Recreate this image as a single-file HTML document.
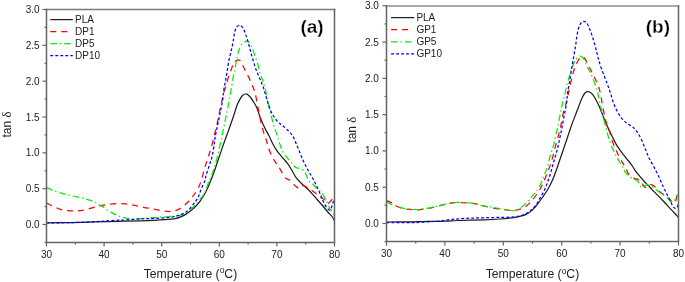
<!DOCTYPE html>
<html><head><meta charset="utf-8"><style>
html,body{margin:0;padding:0;background:#fff;}
body{width:685px;height:282px;overflow:hidden;}
svg{display:block;font-family:"Liberation Sans", sans-serif;will-change:transform;filter:blur(0.3px);}
</style></head><body>
<svg width="685" height="282" viewBox="0 0 685 282" fill="#222">
<rect width="685" height="282" fill="#fff"/>
<clipPath id="ca"><rect x="46.50" y="8.50" width="288.00" height="234.00"/></clipPath>
<path d="M46.50,222.90 C50.55,222.85 62.62,222.77 70.80,222.60 C78.98,222.43 87.60,222.12 95.60,221.90 C103.60,221.68 111.40,221.47 118.80,221.30 C126.20,221.13 134.10,221.07 140.00,220.90 C145.90,220.73 149.47,220.57 154.20,220.30 C158.93,220.03 164.88,219.58 168.40,219.30 C171.92,219.02 173.27,219.02 175.30,218.60 C177.33,218.18 178.82,217.55 180.60,216.80 C182.38,216.05 184.22,215.18 186.00,214.10 C187.78,213.02 189.68,211.60 191.30,210.30 C192.92,209.00 194.20,207.87 195.70,206.30 C197.20,204.73 198.63,203.28 200.30,200.90 C201.97,198.52 204.07,195.12 205.70,192.00 C207.33,188.88 208.63,185.75 210.10,182.20 C211.57,178.65 213.17,174.40 214.50,170.70 C215.83,167.00 216.63,164.30 218.10,160.00 C219.57,155.70 221.68,149.50 223.30,144.90 C224.92,140.30 226.32,136.55 227.80,132.40 C229.28,128.25 231.07,123.28 232.20,120.00 C233.33,116.72 233.77,115.23 234.60,112.70 C235.43,110.17 236.32,107.02 237.20,104.80 C238.08,102.58 238.98,100.98 239.90,99.40 C240.82,97.82 241.77,96.20 242.70,95.30 C243.63,94.40 244.53,94.02 245.50,94.00 C246.47,93.98 247.58,94.53 248.50,95.20 C249.42,95.87 250.20,96.95 251.00,98.00 C251.80,99.05 252.33,99.88 253.30,101.50 C254.27,103.12 255.58,104.87 256.80,107.70 C258.02,110.53 259.30,115.20 260.60,118.50 C261.90,121.80 263.18,124.58 264.60,127.50 C266.02,130.42 267.65,133.12 269.10,136.00 C270.55,138.88 271.87,142.15 273.30,144.80 C274.73,147.45 276.08,149.68 277.70,151.90 C279.32,154.12 281.37,156.18 283.00,158.10 C284.63,160.02 286.17,161.62 287.50,163.40 C288.83,165.18 289.65,166.57 291.00,168.80 C292.35,171.03 293.93,174.43 295.60,176.80 C297.27,179.17 298.93,180.92 301.00,183.00 C303.07,185.08 305.65,186.93 308.00,189.30 C310.35,191.67 312.77,194.58 315.10,197.20 C317.43,199.82 319.88,202.53 322.00,205.00 C324.12,207.47 326.07,210.00 327.80,212.00 C329.53,214.00 331.28,215.50 332.40,217.00 C333.52,218.50 334.15,220.33 334.50,221.00" fill="none" stroke="#1e1e1e" stroke-width="1.25"  clip-path="url(#ca)"/>
<path d="M46.50,203.00 C47.60,203.53 50.82,205.15 53.10,206.20 C55.38,207.25 57.83,208.58 60.20,209.30 C62.57,210.02 64.65,210.22 67.30,210.50 C69.95,210.78 73.15,211.12 76.10,211.00 C79.05,210.88 81.75,210.47 85.00,209.80 C88.25,209.13 92.92,207.68 95.60,207.00 C98.28,206.32 99.00,206.12 101.10,205.70 C103.20,205.28 105.55,204.85 108.20,204.50 C110.85,204.15 114.05,203.70 117.00,203.60 C119.95,203.50 122.93,203.60 125.90,203.90 C128.87,204.20 131.85,204.83 134.80,205.40 C137.75,205.97 140.37,206.68 143.60,207.30 C146.83,207.92 150.78,208.47 154.20,209.10 C157.62,209.73 161.47,210.70 164.10,211.10 C166.73,211.50 168.30,211.52 170.00,211.50 C171.70,211.48 172.88,211.35 174.30,211.00 C175.72,210.65 177.08,210.12 178.50,209.40 C179.92,208.68 181.38,207.77 182.80,206.70 C184.22,205.63 185.58,204.42 187.00,203.00 C188.42,201.58 190.05,199.70 191.30,198.20 C192.55,196.70 193.27,195.85 194.50,194.00 C195.73,192.15 197.50,189.60 198.70,187.10 C199.90,184.60 200.63,182.42 201.70,179.00 C202.77,175.58 203.95,170.43 205.10,166.60 C206.25,162.77 207.40,159.85 208.60,156.00 C209.80,152.15 211.22,147.47 212.30,143.50 C213.38,139.53 214.25,135.70 215.10,132.20 C215.95,128.70 216.67,125.90 217.40,122.50 C218.13,119.10 218.80,115.20 219.50,111.80 C220.20,108.40 220.85,105.40 221.60,102.10 C222.35,98.80 223.23,94.77 224.00,92.00 C224.77,89.23 225.53,87.77 226.20,85.50 C226.87,83.23 227.27,80.77 228.00,78.40 C228.73,76.03 229.72,73.67 230.60,71.30 C231.48,68.93 232.48,65.92 233.30,64.20 C234.12,62.48 234.77,61.73 235.50,61.00 C236.23,60.27 236.95,59.88 237.70,59.80 C238.45,59.72 239.40,60.07 240.00,60.50 C240.60,60.93 240.50,60.90 241.30,62.40 C242.10,63.90 243.62,67.13 244.80,69.50 C245.98,71.87 247.22,74.08 248.40,76.60 C249.58,79.12 250.92,82.28 251.90,84.60 C252.88,86.92 253.62,88.42 254.30,90.50 C254.98,92.58 255.43,94.52 256.00,97.10 C256.57,99.68 257.12,103.05 257.70,106.00 C258.28,108.95 258.90,111.85 259.50,114.80 C260.10,117.75 260.57,120.60 261.30,123.70 C262.03,126.80 263.03,130.60 263.90,133.40 C264.77,136.20 265.82,138.30 266.50,140.50 C267.18,142.70 267.02,143.82 268.00,146.60 C268.98,149.38 270.93,154.25 272.40,157.20 C273.87,160.15 275.47,162.23 276.80,164.30 C278.13,166.37 279.03,167.37 280.40,169.60 C281.77,171.83 283.52,175.98 285.00,177.70 C286.48,179.42 288.12,179.07 289.30,179.90 C290.48,180.73 291.05,181.65 292.10,182.70 C293.15,183.75 294.42,185.25 295.60,186.20 C296.78,187.15 298.22,188.35 299.20,188.40 C300.18,188.45 300.77,186.97 301.50,186.50 C302.23,186.03 302.57,185.37 303.60,185.60 C304.63,185.83 306.55,187.28 307.70,187.90 C308.85,188.52 309.27,188.48 310.50,189.30 C311.73,190.12 313.43,191.48 315.10,192.80 C316.77,194.12 318.83,195.98 320.50,197.20 C322.17,198.42 323.90,198.97 325.10,200.10 C326.30,201.23 326.95,203.68 327.70,204.00 C328.45,204.32 328.97,202.65 329.60,202.00 C330.23,201.35 330.87,201.15 331.50,200.10 C332.13,199.05 332.90,196.72 333.40,195.70 C333.90,194.68 334.32,194.28 334.50,194.00" fill="none" stroke="#ff0000" stroke-width="1.25" stroke-dasharray="6 5" clip-path="url(#ca)"/>
<path d="M46.50,187.40 C47.90,188.00 52.03,189.93 54.90,191.00 C57.77,192.07 60.75,192.97 63.70,193.80 C66.65,194.63 69.63,195.35 72.60,196.00 C75.57,196.65 78.83,197.05 81.50,197.70 C84.17,198.35 86.25,199.10 88.60,199.90 C90.95,200.70 93.52,201.53 95.60,202.50 C97.68,203.47 99.00,204.37 101.10,205.70 C103.20,207.03 105.83,209.02 108.20,210.50 C110.57,211.98 112.93,213.48 115.30,214.60 C117.67,215.72 120.03,216.55 122.40,217.20 C124.77,217.85 126.85,218.20 129.50,218.50 C132.15,218.80 135.95,219.02 138.30,219.00 C140.65,218.98 140.95,218.62 143.60,218.40 C146.25,218.18 150.07,218.02 154.20,217.70 C158.33,217.38 164.88,216.73 168.40,216.50 C171.92,216.27 173.27,216.52 175.30,216.30 C177.33,216.08 178.82,215.73 180.60,215.20 C182.38,214.67 184.22,214.17 186.00,213.10 C187.78,212.03 189.72,210.22 191.30,208.80 C192.88,207.38 194.17,206.02 195.50,204.60 C196.83,203.18 197.73,202.33 199.30,200.30 C200.87,198.27 203.38,195.33 204.90,192.40 C206.42,189.47 207.18,185.82 208.40,182.70 C209.62,179.58 210.98,176.98 212.20,173.70 C213.42,170.42 214.67,166.55 215.70,163.00 C216.73,159.45 217.52,156.08 218.40,152.40 C219.28,148.72 220.37,143.82 221.00,140.90 C221.63,137.98 221.72,137.23 222.20,134.90 C222.68,132.57 223.32,129.72 223.90,126.90 C224.48,124.08 225.10,120.95 225.70,118.00 C226.30,115.05 226.82,112.58 227.50,109.20 C228.18,105.82 229.13,101.37 229.80,97.70 C230.47,94.03 230.92,90.72 231.50,87.20 C232.08,83.68 232.70,79.85 233.30,76.60 C233.90,73.35 234.52,70.65 235.10,67.70 C235.68,64.75 236.22,61.70 236.80,58.90 C237.38,56.10 237.85,53.25 238.60,50.90 C239.35,48.55 240.27,46.28 241.30,44.80 C242.33,43.32 243.73,42.63 244.80,42.00 C245.87,41.37 246.75,40.53 247.70,41.00 C248.65,41.47 249.68,43.47 250.50,44.80 C251.32,46.13 251.88,47.20 252.60,49.00 C253.32,50.80 254.00,53.32 254.80,55.60 C255.60,57.88 256.52,59.73 257.40,62.70 C258.28,65.67 259.22,70.43 260.10,73.40 C260.98,76.37 261.82,77.85 262.70,80.50 C263.58,83.15 264.60,85.95 265.40,89.30 C266.20,92.65 266.72,96.93 267.50,100.60 C268.28,104.27 269.37,108.33 270.10,111.30 C270.83,114.27 271.22,115.77 271.90,118.40 C272.58,121.03 273.38,124.47 274.20,127.10 C275.02,129.73 275.92,131.55 276.80,134.20 C277.68,136.85 278.47,140.05 279.50,143.00 C280.53,145.95 281.67,149.38 283.00,151.90 C284.33,154.42 286.02,156.18 287.50,158.10 C288.98,160.02 290.73,162.00 291.90,163.40 C293.07,164.80 293.65,165.73 294.50,166.50 C295.35,167.27 295.98,167.67 297.00,168.00 C298.02,168.33 299.53,168.07 300.60,168.50 C301.67,168.93 302.57,169.77 303.40,170.60 C304.23,171.43 305.00,172.43 305.60,173.50 C306.20,174.57 306.42,175.70 307.00,177.00 C307.58,178.30 308.27,180.23 309.10,181.30 C309.93,182.37 311.17,182.70 312.00,183.40 C312.83,184.10 313.13,184.52 314.10,185.50 C315.07,186.48 316.60,188.25 317.80,189.30 C319.00,190.35 320.40,190.85 321.30,191.80 C322.20,192.75 322.47,193.72 323.20,195.00 C323.93,196.28 324.85,197.90 325.70,199.50 C326.55,201.10 327.65,203.12 328.30,204.60 C328.95,206.08 329.07,207.33 329.60,208.40 C330.13,209.47 330.77,209.93 331.50,211.00 C332.23,212.07 333.58,214.17 334.00,214.80" fill="none" stroke="#00ee00" stroke-width="1.25" stroke-dasharray="6.6 2.8 1.4 3" clip-path="url(#ca)"/>
<path d="M46.50,223.00 C50.55,222.93 62.62,222.82 70.80,222.60 C78.98,222.38 89.97,221.95 95.60,221.70 C101.23,221.45 101.32,221.32 104.60,221.10 C107.88,220.88 111.75,220.60 115.30,220.40 C118.85,220.20 121.18,220.18 125.90,219.90 C130.62,219.62 138.88,218.95 143.60,218.70 C148.32,218.45 150.07,218.60 154.20,218.40 C158.33,218.20 164.88,217.85 168.40,217.50 C171.92,217.15 173.27,216.80 175.30,216.30 C177.33,215.80 178.82,215.22 180.60,214.50 C182.38,213.78 184.22,213.30 186.00,212.00 C187.78,210.70 189.72,208.47 191.30,206.70 C192.88,204.93 194.27,203.17 195.50,201.40 C196.73,199.63 197.72,198.25 198.70,196.10 C199.68,193.95 200.37,191.03 201.40,188.50 C202.43,185.97 204.13,183.07 204.90,180.90 C205.67,178.73 205.23,178.18 206.00,175.50 C206.77,172.82 208.47,168.05 209.50,164.80 C210.53,161.55 211.40,159.53 212.20,156.00 C213.00,152.47 213.82,146.67 214.30,143.60 C214.78,140.53 214.68,140.08 215.10,137.60 C215.52,135.12 216.13,131.97 216.80,128.70 C217.47,125.43 218.35,121.55 219.10,118.00 C219.85,114.45 220.65,110.78 221.30,107.40 C221.95,104.02 222.63,100.32 223.00,97.70 C223.37,95.08 223.12,94.33 223.50,91.70 C223.88,89.07 224.70,85.30 225.30,81.90 C225.90,78.50 226.50,74.85 227.10,71.30 C227.70,67.75 228.25,63.90 228.90,60.60 C229.55,57.30 230.47,53.78 231.00,51.50 C231.53,49.22 231.77,48.48 232.10,46.90 C232.43,45.32 232.70,43.65 233.00,42.00 C233.30,40.35 233.58,38.72 233.90,37.00 C234.22,35.28 234.50,33.28 234.90,31.70 C235.30,30.12 235.47,28.58 236.30,27.50 C237.13,26.42 238.72,25.03 239.90,25.20 C241.08,25.37 242.52,27.13 243.40,28.50 C244.28,29.87 244.60,31.75 245.20,33.40 C245.80,35.05 246.47,36.73 247.00,38.40 C247.53,40.07 247.93,41.75 248.40,43.40 C248.87,45.05 249.38,46.70 249.80,48.30 C250.22,49.90 250.45,51.35 250.90,53.00 C251.35,54.65 251.80,55.87 252.50,58.20 C253.20,60.53 254.22,64.35 255.10,67.00 C255.98,69.65 256.83,71.73 257.80,74.10 C258.77,76.47 259.95,78.92 260.90,81.20 C261.85,83.48 262.70,85.43 263.50,87.80 C264.30,90.17 264.95,92.87 265.70,95.40 C266.45,97.93 267.12,100.32 268.00,103.00 C268.88,105.68 269.92,109.08 271.00,111.50 C272.08,113.92 273.25,115.67 274.50,117.50 C275.75,119.33 277.15,121.17 278.50,122.50 C279.85,123.83 281.05,124.20 282.60,125.50 C284.15,126.80 286.10,128.55 287.80,130.30 C289.50,132.05 291.38,133.73 292.80,136.00 C294.22,138.27 295.12,141.10 296.30,143.90 C297.48,146.70 298.77,150.05 299.90,152.80 C301.03,155.55 302.03,158.02 303.10,160.40 C304.17,162.78 305.18,164.95 306.30,167.10 C307.42,169.25 308.62,171.23 309.80,173.30 C310.98,175.37 312.22,177.28 313.40,179.50 C314.58,181.72 315.72,184.07 316.90,186.60 C318.08,189.13 319.55,192.45 320.50,194.70 C321.45,196.95 321.93,198.55 322.60,200.10 C323.27,201.65 323.77,202.72 324.50,204.00 C325.23,205.28 326.15,206.77 327.00,207.80 C327.85,208.83 328.85,210.30 329.60,210.20 C330.35,210.10 330.97,208.35 331.50,207.20 C332.03,206.05 332.30,204.67 332.80,203.30 C333.30,201.93 334.22,199.72 334.50,199.00" fill="none" stroke="#0000ff" stroke-width="1.25" stroke-dasharray="2.9 2.1" clip-path="url(#ca)"/>
<path d="M46.50,9.50 H334.50" stroke="#7a7a7a" stroke-width="1.5" stroke-linecap="square"/>
<path d="M46.50,9.50 V242.50 H334.50 V9.50" fill="none" stroke="#636363" stroke-width="1.5" stroke-linecap="square"/>
<line x1="44.50" y1="242.42" x2="46.50" y2="242.42" stroke="#636363" stroke-width="1.2"/>
<line x1="42.50" y1="224.50" x2="46.50" y2="224.50" stroke="#636363" stroke-width="1.2"/>
<text x="39.60" y="228.00" text-anchor="end" font-size="10.0">0.0</text>
<line x1="44.50" y1="206.58" x2="46.50" y2="206.58" stroke="#636363" stroke-width="1.2"/>
<line x1="42.50" y1="188.67" x2="46.50" y2="188.67" stroke="#636363" stroke-width="1.2"/>
<text x="39.60" y="192.17" text-anchor="end" font-size="10.0">0.5</text>
<line x1="44.50" y1="170.75" x2="46.50" y2="170.75" stroke="#636363" stroke-width="1.2"/>
<line x1="42.50" y1="152.83" x2="46.50" y2="152.83" stroke="#636363" stroke-width="1.2"/>
<text x="39.60" y="156.33" text-anchor="end" font-size="10.0">1.0</text>
<line x1="44.50" y1="134.92" x2="46.50" y2="134.92" stroke="#636363" stroke-width="1.2"/>
<line x1="42.50" y1="117.00" x2="46.50" y2="117.00" stroke="#636363" stroke-width="1.2"/>
<text x="39.60" y="120.50" text-anchor="end" font-size="10.0">1.5</text>
<line x1="44.50" y1="99.08" x2="46.50" y2="99.08" stroke="#636363" stroke-width="1.2"/>
<line x1="42.50" y1="81.17" x2="46.50" y2="81.17" stroke="#636363" stroke-width="1.2"/>
<text x="39.60" y="84.67" text-anchor="end" font-size="10.0">2.0</text>
<line x1="44.50" y1="63.25" x2="46.50" y2="63.25" stroke="#636363" stroke-width="1.2"/>
<line x1="42.50" y1="45.33" x2="46.50" y2="45.33" stroke="#636363" stroke-width="1.2"/>
<text x="39.60" y="48.83" text-anchor="end" font-size="10.0">2.5</text>
<line x1="44.50" y1="27.42" x2="46.50" y2="27.42" stroke="#636363" stroke-width="1.2"/>
<line x1="42.50" y1="9.50" x2="46.50" y2="9.50" stroke="#636363" stroke-width="1.2"/>
<text x="39.60" y="13.00" text-anchor="end" font-size="10.0">3.0</text>
<line x1="46.50" y1="242.50" x2="46.50" y2="246.50" stroke="#636363" stroke-width="1.2"/>
<text x="46.50" y="258.00" text-anchor="middle" font-size="10.0">30</text>
<line x1="75.30" y1="242.50" x2="75.30" y2="244.50" stroke="#636363" stroke-width="1.2"/>
<line x1="104.10" y1="242.50" x2="104.10" y2="246.50" stroke="#636363" stroke-width="1.2"/>
<text x="104.10" y="258.00" text-anchor="middle" font-size="10.0">40</text>
<line x1="132.90" y1="242.50" x2="132.90" y2="244.50" stroke="#636363" stroke-width="1.2"/>
<line x1="161.70" y1="242.50" x2="161.70" y2="246.50" stroke="#636363" stroke-width="1.2"/>
<text x="161.70" y="258.00" text-anchor="middle" font-size="10.0">50</text>
<line x1="190.50" y1="242.50" x2="190.50" y2="244.50" stroke="#636363" stroke-width="1.2"/>
<line x1="219.30" y1="242.50" x2="219.30" y2="246.50" stroke="#636363" stroke-width="1.2"/>
<text x="219.30" y="258.00" text-anchor="middle" font-size="10.0">60</text>
<line x1="248.10" y1="242.50" x2="248.10" y2="244.50" stroke="#636363" stroke-width="1.2"/>
<line x1="276.90" y1="242.50" x2="276.90" y2="246.50" stroke="#636363" stroke-width="1.2"/>
<text x="276.90" y="258.00" text-anchor="middle" font-size="10.0">70</text>
<line x1="305.70" y1="242.50" x2="305.70" y2="244.50" stroke="#636363" stroke-width="1.2"/>
<line x1="334.50" y1="242.50" x2="334.50" y2="246.50" stroke="#636363" stroke-width="1.2"/>
<text x="334.50" y="258.00" text-anchor="middle" font-size="10.0">80</text>
<text x="190.50" y="277.60" text-anchor="middle" font-size="12.2">Temperature (<tspan font-size="8.5" dy="-4.5">o</tspan><tspan dy="4.5">C)</tspan></text>
<text transform="translate(10.50,124.60) rotate(-90)" text-anchor="middle" font-size="12.0">tan <tspan font-family="'Liberation Serif', serif" font-size="12.6">&#948;</tspan></text>
<text x="323.70" y="33.20" text-anchor="end" font-size="19.0" font-weight="bold" fill="#000" stroke="#fff" stroke-width="0.3">(a)</text>
<line x1="50.30" y1="19.60" x2="72.80" y2="19.60" stroke="#1e1e1e" stroke-width="1.25" />
<text x="75.00" y="23.10" font-size="10.0">PLA</text>
<line x1="50.30" y1="31.60" x2="67.50" y2="31.60" stroke="#ff0000" stroke-width="1.25" stroke-dasharray="6 5"/>
<text x="75.00" y="35.10" font-size="10.0">DP1</text>
<line x1="50.30" y1="43.60" x2="72.80" y2="43.60" stroke="#00ee00" stroke-width="1.25" stroke-dasharray="6.6 2.8 1.4 3"/>
<text x="75.00" y="47.10" font-size="10.0">DP5</text>
<line x1="50.30" y1="55.60" x2="72.80" y2="55.60" stroke="#0000ff" stroke-width="1.25" stroke-dasharray="2.9 2.1"/>
<text x="75.00" y="59.10" font-size="10.0">DP10</text>
<clipPath id="cb"><rect x="386.50" y="4.90" width="292.00" height="236.70"/></clipPath>
<path d="M386.50,222.00 C390.42,221.97 403.13,221.90 410.00,221.80 C416.87,221.70 421.78,221.52 427.70,221.40 C433.62,221.28 440.47,221.25 445.50,221.10 C450.53,220.95 451.55,220.72 457.90,220.50 C464.25,220.28 476.63,220.05 483.60,219.80 C490.57,219.55 494.65,219.37 499.70,219.00 C504.75,218.63 510.05,218.15 513.90,217.60 C517.75,217.05 520.43,216.43 522.80,215.70 C525.17,214.97 526.63,214.05 528.10,213.20 C529.57,212.35 530.28,211.78 531.60,210.60 C532.92,209.42 534.15,208.37 536.00,206.10 C537.85,203.83 540.70,199.85 542.70,197.00 C544.70,194.15 546.37,191.82 548.00,189.00 C549.63,186.18 551.17,183.10 552.50,180.10 C553.83,177.10 554.82,174.27 556.00,171.00 C557.18,167.73 558.47,163.78 559.60,160.50 C560.73,157.22 561.82,154.18 562.80,151.30 C563.78,148.42 564.63,145.78 565.50,143.20 C566.37,140.62 567.17,138.30 568.00,135.80 C568.83,133.30 569.68,130.57 570.50,128.20 C571.32,125.83 571.90,124.27 572.90,121.60 C573.90,118.93 575.18,115.65 576.50,112.20 C577.82,108.75 579.80,103.43 580.80,100.90 C581.80,98.37 581.80,98.32 582.50,97.00 C583.20,95.68 584.05,93.88 585.00,93.00 C585.95,92.12 587.02,91.55 588.20,91.70 C589.38,91.85 590.87,92.65 592.10,93.90 C593.33,95.15 594.42,97.13 595.60,99.20 C596.78,101.27 598.02,103.65 599.20,106.30 C600.38,108.95 601.52,112.15 602.70,115.10 C603.88,118.05 605.18,121.42 606.30,124.00 C607.42,126.58 608.35,128.38 609.40,130.60 C610.45,132.82 611.37,134.83 612.60,137.30 C613.83,139.77 615.35,142.98 616.80,145.40 C618.25,147.82 619.67,149.60 621.30,151.80 C622.93,154.00 624.88,156.40 626.60,158.60 C628.32,160.80 630.07,162.87 631.60,165.00 C633.13,167.13 634.38,169.45 635.80,171.40 C637.22,173.35 638.68,175.02 640.10,176.70 C641.52,178.38 642.88,179.98 644.30,181.50 C645.72,183.02 647.32,184.45 648.60,185.80 C649.88,187.15 650.77,188.30 652.00,189.60 C653.23,190.90 654.33,191.90 656.00,193.60 C657.67,195.30 660.00,197.72 662.00,199.80 C664.00,201.88 665.98,203.95 668.00,206.10 C670.02,208.25 672.58,211.07 674.10,212.70 C675.62,214.33 676.37,215.10 677.10,215.90 C677.83,216.70 678.27,217.23 678.50,217.50" fill="none" stroke="#1e1e1e" stroke-width="1.25"  clip-path="url(#cb)"/>
<path d="M386.50,200.50 C387.30,200.85 389.62,201.63 391.30,202.60 C392.98,203.57 394.53,205.30 396.60,206.30 C398.67,207.30 401.33,208.07 403.70,208.60 C406.07,209.13 408.43,209.30 410.80,209.50 C413.17,209.70 415.53,209.90 417.90,209.80 C420.27,209.70 422.63,209.25 425.00,208.90 C427.37,208.55 429.42,208.28 432.10,207.70 C434.78,207.12 438.42,206.08 441.10,205.40 C443.78,204.72 445.83,204.05 448.20,203.60 C450.57,203.15 452.93,202.85 455.30,202.70 C457.67,202.55 460.03,202.63 462.40,202.70 C464.77,202.77 467.13,202.87 469.50,203.10 C471.87,203.33 474.25,203.62 476.60,204.10 C478.95,204.58 481.52,205.48 483.60,206.00 C485.68,206.52 487.00,206.77 489.10,207.20 C491.20,207.63 493.83,208.22 496.20,208.60 C498.57,208.98 500.93,209.20 503.30,209.50 C505.67,209.80 508.03,210.35 510.40,210.40 C512.77,210.45 515.13,210.33 517.50,209.80 C519.87,209.27 522.53,208.38 524.60,207.20 C526.67,206.02 528.20,204.40 529.90,202.70 C531.60,201.00 533.10,199.28 534.80,197.00 C536.50,194.72 538.63,191.52 540.10,189.00 C541.57,186.48 542.42,184.57 543.60,181.90 C544.78,179.23 546.13,175.67 547.20,173.00 C548.27,170.33 549.08,168.57 550.00,165.90 C550.92,163.23 551.82,160.18 552.70,157.00 C553.58,153.82 554.33,150.42 555.30,146.80 C556.27,143.18 557.55,138.93 558.50,135.30 C559.45,131.67 560.25,128.52 561.00,125.00 C561.75,121.48 562.13,117.92 563.00,114.20 C563.87,110.48 565.47,105.42 566.20,102.70 C566.93,99.98 566.75,100.77 567.40,97.90 C568.05,95.03 569.22,89.35 570.10,85.50 C570.98,81.65 571.82,78.05 572.70,74.80 C573.58,71.55 574.22,68.80 575.40,66.00 C576.58,63.20 578.47,59.48 579.80,58.00 C581.13,56.52 582.37,56.67 583.40,57.10 C584.43,57.53 584.97,58.83 586.00,60.60 C587.03,62.37 588.42,65.33 589.60,67.70 C590.78,70.07 591.92,72.43 593.10,74.80 C594.28,77.17 595.67,79.53 596.70,81.90 C597.73,84.27 598.58,86.57 599.30,89.00 C600.02,91.43 600.43,93.62 601.00,96.50 C601.57,99.38 602.05,102.90 602.70,106.30 C603.35,109.70 604.15,113.65 604.90,116.90 C605.65,120.15 606.38,123.22 607.20,125.80 C608.02,128.38 608.93,129.82 609.80,132.40 C610.67,134.98 611.37,138.35 612.40,141.30 C613.43,144.25 614.82,147.45 616.00,150.10 C617.18,152.75 618.33,154.98 619.50,157.20 C620.67,159.42 622.00,161.68 623.00,163.40 C624.00,165.12 624.52,165.65 625.50,167.50 C626.48,169.35 627.53,172.75 628.90,174.50 C630.27,176.25 632.08,177.13 633.70,178.00 C635.32,178.87 637.30,179.00 638.60,179.70 C639.90,180.40 640.68,181.15 641.50,182.20 C642.32,183.25 642.83,185.15 643.50,186.00 C644.17,186.85 644.75,187.38 645.50,187.30 C646.25,187.22 647.25,186.00 648.00,185.50 C648.75,185.00 649.02,184.22 650.00,184.30 C650.98,184.38 652.60,185.08 653.90,186.00 C655.20,186.92 656.65,188.73 657.80,189.80 C658.95,190.87 659.73,191.53 660.80,192.40 C661.87,193.27 663.00,194.08 664.20,195.00 C665.40,195.92 666.87,196.93 668.00,197.90 C669.13,198.87 670.08,199.93 671.00,200.80 C671.92,201.67 672.75,202.98 673.50,203.10 C674.25,203.22 674.92,202.77 675.50,201.50 C676.08,200.23 676.50,197.58 677.00,195.50 C677.50,193.42 678.25,190.08 678.50,189.00" fill="none" stroke="#ff0000" stroke-width="1.25" stroke-dasharray="6 5" clip-path="url(#cb)"/>
<path d="M386.50,201.80 C387.30,202.22 389.62,203.60 391.30,204.30 C392.98,205.00 394.53,205.32 396.60,206.00 C398.67,206.68 401.33,207.85 403.70,208.40 C406.07,208.95 408.43,209.10 410.80,209.30 C413.17,209.50 415.53,209.70 417.90,209.60 C420.27,209.50 422.63,209.08 425.00,208.70 C427.37,208.32 429.42,207.88 432.10,207.30 C434.78,206.72 438.42,205.85 441.10,205.20 C443.78,204.55 445.83,203.85 448.20,203.40 C450.57,202.95 452.93,202.65 455.30,202.50 C457.67,202.35 460.03,202.43 462.40,202.50 C464.77,202.57 467.13,202.67 469.50,202.90 C471.87,203.13 474.25,203.42 476.60,203.90 C478.95,204.38 480.33,205.12 483.60,205.80 C486.87,206.48 491.73,207.22 496.20,208.00 C500.67,208.78 506.85,210.23 510.40,210.50 C513.95,210.77 515.13,210.60 517.50,209.60 C519.87,208.60 522.53,206.23 524.60,204.50 C526.67,202.77 528.42,200.87 529.90,199.20 C531.38,197.53 531.95,196.50 533.50,194.50 C535.05,192.50 537.52,190.18 539.20,187.20 C540.88,184.22 542.27,179.85 543.60,176.60 C544.93,173.35 546.13,171.05 547.20,167.70 C548.27,164.35 549.08,159.77 550.00,156.50 C550.92,153.23 551.95,150.60 552.70,148.10 C553.45,145.60 553.93,143.88 554.50,141.50 C555.07,139.12 555.57,136.13 556.10,133.80 C556.63,131.47 557.25,129.55 557.70,127.50 C558.15,125.45 558.20,124.60 558.80,121.50 C559.40,118.40 560.60,112.33 561.30,108.90 C562.00,105.47 562.57,102.73 563.00,100.90 C563.43,99.07 563.32,100.18 563.90,97.90 C564.48,95.62 565.62,90.75 566.50,87.20 C567.38,83.65 568.17,80.13 569.20,76.60 C570.23,73.07 571.52,68.95 572.70,66.00 C573.88,63.05 574.97,60.53 576.30,58.90 C577.63,57.27 579.37,56.05 580.70,56.20 C582.03,56.35 583.12,57.88 584.30,59.80 C585.48,61.72 586.63,65.20 587.80,67.70 C588.97,70.20 590.12,72.13 591.30,74.80 C592.48,77.47 593.95,81.17 594.90,83.70 C595.85,86.23 596.43,88.02 597.00,90.00 C597.57,91.98 597.63,92.60 598.30,95.60 C598.97,98.60 600.12,104.15 601.00,108.00 C601.88,111.85 602.77,115.37 603.60,118.70 C604.43,122.03 605.42,125.72 606.00,128.00 C606.58,130.28 606.47,130.18 607.10,132.40 C607.73,134.62 608.77,138.35 609.80,141.30 C610.83,144.25 612.13,147.45 613.30,150.10 C614.47,152.75 615.62,154.98 616.80,157.20 C617.98,159.42 619.37,161.62 620.40,163.40 C621.43,165.18 622.15,166.38 623.00,167.90 C623.85,169.42 624.25,170.95 625.50,172.50 C626.75,174.05 629.05,176.05 630.50,177.20 C631.95,178.35 633.07,178.80 634.20,179.40 C635.33,180.00 636.43,180.05 637.30,180.80 C638.17,181.55 638.62,182.75 639.40,183.90 C640.18,185.05 641.08,187.42 642.00,187.70 C642.92,187.98 643.92,186.08 644.90,185.60 C645.88,185.12 646.90,184.73 647.90,184.80 C648.90,184.87 649.83,185.43 650.90,186.00 C651.97,186.57 653.15,187.37 654.30,188.20 C655.45,189.03 656.72,190.13 657.80,191.00 C658.88,191.87 659.80,192.68 660.80,193.40 C661.80,194.12 662.60,194.48 663.80,195.30 C665.00,196.12 666.88,197.30 668.00,198.30 C669.12,199.30 669.75,200.77 670.50,201.30 C671.25,201.83 671.80,201.70 672.50,201.50 C673.20,201.30 674.13,200.93 674.70,200.10 C675.27,199.27 675.40,197.40 675.90,196.50 C676.40,195.60 677.27,194.95 677.70,194.70 C678.13,194.45 678.37,194.95 678.50,195.00" fill="none" stroke="#00ee00" stroke-width="1.25" stroke-dasharray="6.6 2.8 1.4 3" clip-path="url(#cb)"/>
<path d="M386.50,222.60 C390.72,222.62 405.97,222.77 411.80,222.70 C417.63,222.63 418.25,222.37 421.50,222.20 C424.75,222.03 428.33,221.90 431.30,221.70 C434.27,221.50 436.35,221.33 439.30,221.00 C442.25,220.67 445.90,220.05 449.00,219.70 C452.10,219.35 454.40,219.15 457.90,218.90 C461.40,218.65 465.72,218.38 470.00,218.20 C474.28,218.02 478.65,217.93 483.60,217.80 C488.55,217.67 494.65,217.55 499.70,217.40 C504.75,217.25 510.05,217.28 513.90,216.90 C517.75,216.52 520.43,215.83 522.80,215.10 C525.17,214.37 526.63,213.38 528.10,212.50 C529.57,211.62 530.28,211.05 531.60,209.80 C532.92,208.55 534.58,206.98 536.00,205.00 C537.42,203.02 538.68,200.42 540.10,197.90 C541.52,195.38 543.18,192.72 544.50,189.90 C545.82,187.08 546.93,183.97 548.00,181.00 C549.07,178.03 549.97,175.22 550.90,172.10 C551.83,168.98 552.72,165.45 553.60,162.30 C554.48,159.15 555.52,155.60 556.20,153.20 C556.88,150.80 557.27,149.62 557.70,147.90 C558.13,146.18 558.43,144.62 558.80,142.90 C559.17,141.18 559.55,139.28 559.90,137.60 C560.25,135.92 560.55,134.50 560.90,132.80 C561.25,131.10 561.65,129.18 562.00,127.40 C562.35,125.62 562.53,124.60 563.00,122.10 C563.47,119.60 564.20,115.63 564.80,112.40 C565.40,109.17 566.17,105.72 566.60,102.70 C567.03,99.68 566.97,97.47 567.40,94.30 C567.83,91.13 568.60,87.25 569.20,83.70 C569.80,80.15 570.42,76.55 571.00,73.00 C571.58,69.45 572.17,65.60 572.70,62.40 C573.23,59.20 573.72,56.57 574.20,53.80 C574.68,51.03 575.17,48.62 575.60,45.80 C576.03,42.98 576.30,39.87 576.80,36.90 C577.30,33.93 577.85,30.37 578.60,28.00 C579.35,25.63 580.42,23.82 581.30,22.70 C582.18,21.58 583.02,21.30 583.90,21.30 C584.78,21.30 585.70,21.58 586.60,22.70 C587.50,23.82 588.42,25.93 589.30,28.00 C590.18,30.07 591.02,32.43 591.90,35.10 C592.78,37.77 593.77,41.03 594.60,44.00 C595.43,46.97 596.27,50.42 596.90,52.90 C597.53,55.38 597.70,56.43 598.40,58.90 C599.10,61.37 600.00,64.52 601.10,67.70 C602.20,70.88 603.85,74.97 605.00,78.00 C606.15,81.03 607.05,83.25 608.00,85.90 C608.95,88.55 609.80,91.10 610.70,93.90 C611.60,96.70 612.37,99.90 613.40,102.70 C614.43,105.50 615.58,108.18 616.90,110.70 C618.22,113.22 619.67,115.73 621.30,117.80 C622.93,119.87 624.78,121.55 626.70,123.10 C628.62,124.65 630.90,125.40 632.80,127.10 C634.70,128.80 636.47,130.78 638.10,133.30 C639.73,135.82 641.27,139.25 642.60,142.20 C643.93,145.15 644.97,148.23 646.10,151.00 C647.23,153.77 648.03,156.03 649.40,158.80 C650.77,161.57 652.68,164.52 654.30,167.60 C655.92,170.68 657.62,174.10 659.10,177.30 C660.58,180.50 662.12,184.42 663.20,186.80 C664.28,189.18 664.80,189.98 665.60,191.60 C666.40,193.22 667.18,194.88 668.00,196.50 C668.82,198.12 669.68,199.70 670.50,201.30 C671.32,202.90 672.10,204.90 672.90,206.10 C673.70,207.30 674.60,208.30 675.30,208.50 C676.00,208.70 676.57,208.13 677.10,207.30 C677.63,206.47 678.27,204.13 678.50,203.50" fill="none" stroke="#0000ff" stroke-width="1.25" stroke-dasharray="2.9 2.1" clip-path="url(#cb)"/>
<path d="M386.50,5.90 H678.50" stroke="#8c8c8c" stroke-width="1.5" stroke-linecap="square"/>
<path d="M386.50,5.90 V241.60 H678.50 V5.90" fill="none" stroke="#636363" stroke-width="1.5" stroke-linecap="square"/>
<line x1="384.50" y1="241.64" x2="386.50" y2="241.64" stroke="#636363" stroke-width="1.2"/>
<line x1="382.50" y1="223.50" x2="386.50" y2="223.50" stroke="#636363" stroke-width="1.2"/>
<text x="378.90" y="227.00" text-anchor="end" font-size="10.0">0.0</text>
<line x1="384.50" y1="205.36" x2="386.50" y2="205.36" stroke="#636363" stroke-width="1.2"/>
<line x1="382.50" y1="187.22" x2="386.50" y2="187.22" stroke="#636363" stroke-width="1.2"/>
<text x="378.90" y="190.72" text-anchor="end" font-size="10.0">0.5</text>
<line x1="384.50" y1="169.07" x2="386.50" y2="169.07" stroke="#636363" stroke-width="1.2"/>
<line x1="382.50" y1="150.93" x2="386.50" y2="150.93" stroke="#636363" stroke-width="1.2"/>
<text x="378.90" y="154.43" text-anchor="end" font-size="10.0">1.0</text>
<line x1="384.50" y1="132.79" x2="386.50" y2="132.79" stroke="#636363" stroke-width="1.2"/>
<line x1="382.50" y1="114.65" x2="386.50" y2="114.65" stroke="#636363" stroke-width="1.2"/>
<text x="378.90" y="118.15" text-anchor="end" font-size="10.0">1.5</text>
<line x1="384.50" y1="96.50" x2="386.50" y2="96.50" stroke="#636363" stroke-width="1.2"/>
<line x1="382.50" y1="78.36" x2="386.50" y2="78.36" stroke="#636363" stroke-width="1.2"/>
<text x="378.90" y="81.86" text-anchor="end" font-size="10.0">2.0</text>
<line x1="384.50" y1="60.22" x2="386.50" y2="60.22" stroke="#636363" stroke-width="1.2"/>
<line x1="382.50" y1="42.08" x2="386.50" y2="42.08" stroke="#636363" stroke-width="1.2"/>
<text x="378.90" y="45.58" text-anchor="end" font-size="10.0">2.5</text>
<line x1="384.50" y1="23.93" x2="386.50" y2="23.93" stroke="#636363" stroke-width="1.2"/>
<line x1="382.50" y1="5.79" x2="386.50" y2="5.79" stroke="#636363" stroke-width="1.2"/>
<text x="378.90" y="9.29" text-anchor="end" font-size="10.0">3.0</text>
<line x1="386.50" y1="241.60" x2="386.50" y2="245.60" stroke="#636363" stroke-width="1.2"/>
<text x="386.50" y="257.30" text-anchor="middle" font-size="10.0">30</text>
<line x1="415.70" y1="241.60" x2="415.70" y2="243.60" stroke="#636363" stroke-width="1.2"/>
<line x1="444.90" y1="241.60" x2="444.90" y2="245.60" stroke="#636363" stroke-width="1.2"/>
<text x="444.90" y="257.30" text-anchor="middle" font-size="10.0">40</text>
<line x1="474.10" y1="241.60" x2="474.10" y2="243.60" stroke="#636363" stroke-width="1.2"/>
<line x1="503.30" y1="241.60" x2="503.30" y2="245.60" stroke="#636363" stroke-width="1.2"/>
<text x="503.30" y="257.30" text-anchor="middle" font-size="10.0">50</text>
<line x1="532.50" y1="241.60" x2="532.50" y2="243.60" stroke="#636363" stroke-width="1.2"/>
<line x1="561.70" y1="241.60" x2="561.70" y2="245.60" stroke="#636363" stroke-width="1.2"/>
<text x="561.70" y="257.30" text-anchor="middle" font-size="10.0">60</text>
<line x1="590.90" y1="241.60" x2="590.90" y2="243.60" stroke="#636363" stroke-width="1.2"/>
<line x1="620.10" y1="241.60" x2="620.10" y2="245.60" stroke="#636363" stroke-width="1.2"/>
<text x="620.10" y="257.30" text-anchor="middle" font-size="10.0">70</text>
<line x1="649.30" y1="241.60" x2="649.30" y2="243.60" stroke="#636363" stroke-width="1.2"/>
<line x1="678.50" y1="241.60" x2="678.50" y2="245.60" stroke="#636363" stroke-width="1.2"/>
<text x="678.50" y="257.30" text-anchor="middle" font-size="10.0">80</text>
<text x="532.50" y="278.10" text-anchor="middle" font-size="12.2">Temperature (<tspan font-size="8.5" dy="-4.5">o</tspan><tspan dy="4.5">C)</tspan></text>
<text transform="translate(355.50,129.70) rotate(-90)" text-anchor="middle" font-size="12.0">tan <tspan font-family="'Liberation Serif', serif" font-size="12.6">&#948;</tspan></text>
<text x="670.00" y="32.60" text-anchor="end" font-size="19.0" font-weight="bold" fill="#000" stroke="#fff" stroke-width="0.3">(b)</text>
<line x1="391.10" y1="17.60" x2="414.20" y2="17.60" stroke="#1e1e1e" stroke-width="1.25" />
<text x="416.40" y="21.10" font-size="10.0">PLA</text>
<line x1="391.10" y1="29.70" x2="408.30" y2="29.70" stroke="#ff0000" stroke-width="1.25" stroke-dasharray="6 5"/>
<text x="416.40" y="33.20" font-size="10.0">GP1</text>
<line x1="391.10" y1="41.80" x2="414.20" y2="41.80" stroke="#00ee00" stroke-width="1.25" stroke-dasharray="6.6 2.8 1.4 3"/>
<text x="416.40" y="45.30" font-size="10.0">GP5</text>
<line x1="391.10" y1="53.90" x2="414.20" y2="53.90" stroke="#0000ff" stroke-width="1.25" stroke-dasharray="2.9 2.1"/>
<text x="416.40" y="57.40" font-size="10.0">GP10</text>
</svg>
</body></html>
